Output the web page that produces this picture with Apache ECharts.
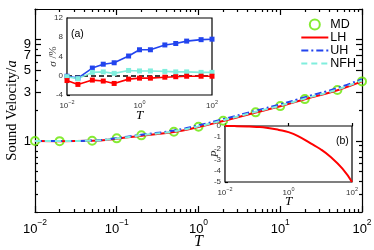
<!DOCTYPE html>
<html><head><meta charset="utf-8">
<script src="https://cdn.jsdelivr.net/npm/echarts@6/dist/echarts.min.js"></script>
<style>html,body{margin:0;padding:0;background:#fff}#c{width:374px;height:250px}</style>
</head><body><div id="c"></div>
<script>
// ---- data ----
const T = [0.01, 0.02, 0.05, 0.1, 0.2, 0.5, 1, 2, 5, 10, 20, 50, 100];
const MD  = [1.0, 0.998, 1.007, 1.063, 1.138, 1.235, 1.383, 1.585, 1.918, 2.21, 2.59, 3.18, 3.87];
const LH  = [1.0, 0.998, 1.005, 1.055, 1.13, 1.23, 1.375, 1.575, 1.91, 2.2, 2.58, 3.17, 3.87];
const UH  = [1.0, 1.0, 1.012, 1.07, 1.155, 1.27, 1.43, 1.64, 1.99, 2.3, 2.7, 3.33, 4.08];
const NFH = [1.0, 1.0, 1.01, 1.06, 1.14, 1.245, 1.395, 1.6, 1.94, 2.23, 2.62, 3.22, 3.95];
// inset (a): relative deviation sigma (%)
const errUH  = [-0.1, -0.5, 1.6, 2.4, 2.7, 4.1, 5.4, 5.4, 6.4, 6.7, 7.2, 7.5, 7.6];
const errNFH = [-0.2, -0.6, 0.7, 0.8, 0.5, 1.1, 1.0, 1.0, 0.9, 0.8, 0.8, 0.7, 0.7];
const errLH  = [-1.0, -1.8, -0.9, -1.1, -1.6, -0.7, -0.5, -0.5, -0.3, -0.2, -0.1, -0.1, -0.1];
// inset (b): P
const P = [0, -0.01, -0.04, -0.08, -0.15, -0.35, -0.55, -0.9, -1.55, -2.05, -2.7, -3.8, -5.0];
// ticks
const xDecades = [0.01, 0.1, 1, 10, 100];
const xMinor = [];
[0.01, 0.1, 1, 10].forEach(d => { for (let k = 2; k <= 9; k++) xMinor.push(+(d * k).toPrecision(3)); });
const yLabelsA = [1, 5, 9];
const yLabelsB = [3, 7];
const yMajorTicks = [1, 3, 5, 7, 9, 10];
const yMinorTicks = [0.2, 0.3, 0.4, 0.5, 0.6, 0.7, 0.8, 0.9, 2, 4, 6, 8, 20];
const insetXLabels = [0.01, 1, 100];

const pair = arr => T.map((t, i) => [t, arr[i]]);
const SANS = 'Liberation Sans, Arial, sans-serif';
const SERIF = 'Liberation Serif, Times New Roman, serif';

function pow10(v) {
  const e = Math.round(Math.log10(v));
  return '{b|10}{s|' + (e < 0 ? '\u2212' + (-e) : e) + '}';
}
const richMain = { b: { fontSize: 13, fontFamily: SANS, color: '#000', verticalAlign: 'bottom', lineHeight: 18 },
                   s: { fontSize: 8.5, fontFamily: SANS, color: '#000', verticalAlign: 'top', lineHeight: 18 } };
const richSmall = { b: { fontSize: 8, fontFamily: SANS, color: '#333', verticalAlign: 'bottom', lineHeight: 11 },
                    s: { fontSize: 5.5, fontFamily: SANS, color: '#333', verticalAlign: 'top', lineHeight: 11 } };

const blk = { color: '#000', width: 1.2 };
const yLabelStyle = { show: true, margin: 4, hideOverlap: false, fontFamily: SANS, fontSize: 13, color: '#000' };
const hidden = { axisLine: { show: false }, axisTick: { show: false }, axisLabel: { show: false }, splitLine: { show: false } };

function mainX(opts) {
  return Object.assign({
    type: 'log', gridIndex: 0, min: 0.01, max: 100, logBase: 10,
    splitLine: { show: false }, axisLine: { show: true, lineStyle: blk },
    axisLabel: { show: false }, axisTick: { show: false }
  }, opts);
}
function mainY(opts) {
  return Object.assign({
    type: 'log', gridIndex: 0, min: 0.2, max: 20, logBase: 10,
    splitLine: { show: false }, axisLine: { show: true, lineStyle: blk },
    axisLabel: { show: false }, axisTick: { show: false }
  }, opts);
}

const option = {
  animation: false,
  backgroundColor: '#fff',
  title: [
    { text: '(a)', left: 66, top: 24, textStyle: { fontSize: 10.5, fontWeight: 'normal', fontFamily: SANS, color: '#000' } },
    { text: '(b)', left: 331, top: 131, textStyle: { fontSize: 10.5, fontWeight: 'normal', fontFamily: SANS, color: '#000' } }
  ],
  legend: {
    data: [
      { name: 'MD' },
      { name: 'LH', itemStyle: { opacity: 0 } },
      { name: 'UH', itemStyle: { opacity: 0 } },
      { name: 'NFH', itemStyle: { opacity: 0 } }
    ],
    orient: 'vertical', right: 18, top: 18, padding: 0,
    itemWidth: 27, itemHeight: 10, itemGap: 0,
    textStyle: { fontFamily: SANS, fontSize: 12.5, lineHeight: 10, color: '#000', padding: [0, 0, 0, -3] }
  },
  grid: [
    { left: 35, top: 9, width: 327, height: 203, show: false, outerBoundsMode: 'none', containLabel: false },
    { left: 67, top: 18, width: 145, height: 77, show: true, backgroundColor: '#fff', borderColor: '#000', borderWidth: 1.2, z: 5, outerBoundsMode: 'none', containLabel: false },
    { left: 225, top: 126, width: 127, height: 56, show: true, backgroundColor: '#fff', borderColor: '#000', borderWidth: 1.2, z: 5, outerBoundsMode: 'none', containLabel: false }
  ],
  xAxis: [
    mainX({ position: 'bottom',
      axisTick: { show: true, inside: true, length: 6, lineStyle: blk, customValues: xDecades },
      axisLabel: { show: true, margin: 6, customValues: xDecades, formatter: pow10, rich: richMain } }),
    mainX({ position: 'bottom', axisLine: { show: false }, name: 'T', nameLocation: 'middle', nameGap: 22,
      nameTextStyle: { fontFamily: SERIF, fontStyle: 'italic', fontSize: 16, color: '#000' },
      axisTick: { show: true, inside: true, length: 3, lineStyle: blk, customValues: xMinor } }),
    mainX({ position: 'top',
      axisTick: { show: true, inside: true, length: 6, lineStyle: blk, customValues: xDecades } }),
    mainX({ position: 'top', axisLine: { show: false },
      axisTick: { show: true, inside: true, length: 3, lineStyle: blk, customValues: xMinor } }),
    // inset (a)
    { type: 'log', gridIndex: 1, min: 0.01, max: 100, splitLine: { show: false },
      axisLine: { show: true, lineStyle: blk },
      axisTick: { show: true, inside: true, length: 3, lineStyle: blk, customValues: insetXLabels },
      axisLabel: { show: true, margin: 4, customValues: insetXLabels, formatter: pow10, rich: richSmall } },
    // inset (b)
    { type: 'log', gridIndex: 2, min: 0.01, max: 100, splitLine: { show: false },
      axisLine: { show: true, lineStyle: blk },
      axisTick: { show: true, inside: true, length: 3, lineStyle: blk, customValues: insetXLabels },
      axisLabel: { show: true, margin: 4, customValues: insetXLabels, formatter: pow10, rich: richSmall } },
    Object.assign({ type: 'log', gridIndex: 1, position: 'bottom', min: 0.01, max: 100, name: 'T', nameLocation: 'middle', nameGap: 14,
      nameTextStyle: { fontFamily: SERIF, fontStyle: 'italic', fontSize: 13, color: '#000' } }, hidden),
    Object.assign({ type: 'log', gridIndex: 2, position: 'bottom', min: 0.01, max: 100, name: 'T', nameLocation: 'middle', nameGap: 13,
      nameTextStyle: { fontFamily: SERIF, fontStyle: 'italic', fontSize: 13, color: '#000' } }, hidden)
  ],
  yAxis: [
    mainY({ position: 'left',
      axisTick: { show: true, inside: true, length: 6, lineStyle: blk, customValues: yMajorTicks },
      axisLabel: Object.assign({ customValues: yLabelsA }, yLabelStyle) }),
    mainY({ position: 'left', axisLine: { show: false },
      axisTick: { show: true, inside: true, length: 3, lineStyle: blk, customValues: yMinorTicks },
      axisLabel: Object.assign({ customValues: yLabelsB }, yLabelStyle) }),
    mainY({ position: 'right',
      axisTick: { show: true, inside: true, length: 6, lineStyle: blk, customValues: yMajorTicks } }),
    mainY({ position: 'right', axisLine: { show: false },
      axisTick: { show: true, inside: true, length: 3, lineStyle: blk, customValues: yMinorTicks } }),
    // inset (a)
    { type: 'value', gridIndex: 1, min: -4, max: 12, interval: 4, splitLine: { show: false },
      axisLine: { show: true, lineStyle: blk },
      axisTick: { show: true, inside: true, length: 3, lineStyle: blk },
      axisLabel: { margin: 4, fontFamily: SANS, fontSize: 8, color: '#333' } },
    // inset (b)
    { type: 'value', gridIndex: 2, min: -5, max: 0, interval: 1, splitLine: { show: false },
      axisLine: { show: true, lineStyle: blk },
      axisTick: { show: true, inside: true, length: 3, lineStyle: blk },
      axisLabel: { margin: 4, fontFamily: SANS, fontSize: 8, color: '#333' } },
    Object.assign({ type: 'value', gridIndex: 1, position: 'left', min: -4, max: 12,
      name: '{g|\u03c3}{p| /%}', nameLocation: 'middle', nameGap: 8,
      nameTextStyle: { rich: { g: { fontFamily: SERIF, fontStyle: 'italic', fontSize: 11, color: '#333' },
                               p: { fontFamily: SERIF, fontSize: 11, color: '#333' } } } }, hidden),
    Object.assign({ type: 'value', gridIndex: 2, position: 'left', min: -5, max: 0, name: 'P', nameLocation: 'middle', nameGap: 4,
      nameTextStyle: { fontFamily: SERIF, fontStyle: 'italic', fontSize: 11, color: '#333' } }, hidden),
    Object.assign({ type: 'log', gridIndex: 0, position: 'left', min: 0.2, max: 20,
      name: '{n|Sound Velocity/}{i|a}', nameLocation: 'middle', nameGap: 15,
      nameTextStyle: { rich: { n: { fontFamily: SERIF, fontSize: 14.5, color: '#000' },
                               i: { fontFamily: SERIF, fontStyle: 'italic', fontSize: 14.5, color: '#000' } } } }, hidden)
  ],
  series: [
    { name: 'MD', type: 'scatter', xAxisIndex: 0, yAxisIndex: 0, data: pair(MD), symbol: 'circle', symbolSize: 8, z: 1,
      itemStyle: { color: 'rgba(255,255,255,0)', borderColor: '#66e600', borderWidth: 2 } },
    { name: 'LH', type: 'line', xAxisIndex: 0, yAxisIndex: 0, data: pair(LH), smooth: true, showSymbol: false, symbol: 'none', z: 3,
      lineStyle: { color: '#ff0000', width: 2 }, itemStyle: { color: '#ff0000' } },
    { name: 'UH', type: 'line', xAxisIndex: 0, yAxisIndex: 0, data: pair(UH), smooth: true, showSymbol: false, symbol: 'none', z: 4,
      lineStyle: { color: '#2244ee', width: 2, type: [7, 3, 2, 3] }, itemStyle: { color: '#2244ee' } },
    { name: 'NFH', type: 'line', xAxisIndex: 0, yAxisIndex: 0, data: pair(NFH), smooth: true, showSymbol: false, symbol: 'none', z: 4,
      lineStyle: { color: '#80eedd', width: 2, type: [6, 4] }, itemStyle: { color: '#80eedd' } },
    // inset (a)
    { name: 'a-UH', type: 'line', xAxisIndex: 4, yAxisIndex: 4, data: pair(errUH), symbol: 'rect', symbolSize: 5, z: 10,
      lineStyle: { color: '#2244ee', width: 1.6 }, itemStyle: { color: '#2244ee' } },
    { name: 'a-NFH', type: 'line', xAxisIndex: 4, yAxisIndex: 4, data: pair(errNFH), symbol: 'rect', symbolSize: 5, z: 10,
      lineStyle: { color: '#80eedd', width: 1.6 }, itemStyle: { color: '#80eedd' } },
    { name: 'a-LH', type: 'line', xAxisIndex: 4, yAxisIndex: 4, data: pair(errLH), symbol: 'rect', symbolSize: 5, z: 11,
      lineStyle: { color: '#ff0000', width: 1.6 }, itemStyle: { color: '#ff0000' },
      markLine: { silent: true, symbol: 'none', label: { show: false }, data: [{ yAxis: 0 }],
        lineStyle: { color: '#000', width: 1.5, type: [5, 3] } } },
    // inset (b)
    { name: 'b-P', type: 'line', xAxisIndex: 5, yAxisIndex: 5, data: pair(P), smooth: true, symbol: 'none', z: 10,
      lineStyle: { color: '#ff0000', width: 2 } }
  ]
};
const chart = echarts.init(document.getElementById('c'), null, { renderer: 'canvas' });
chart.setOption(option);
</script></body></html>
